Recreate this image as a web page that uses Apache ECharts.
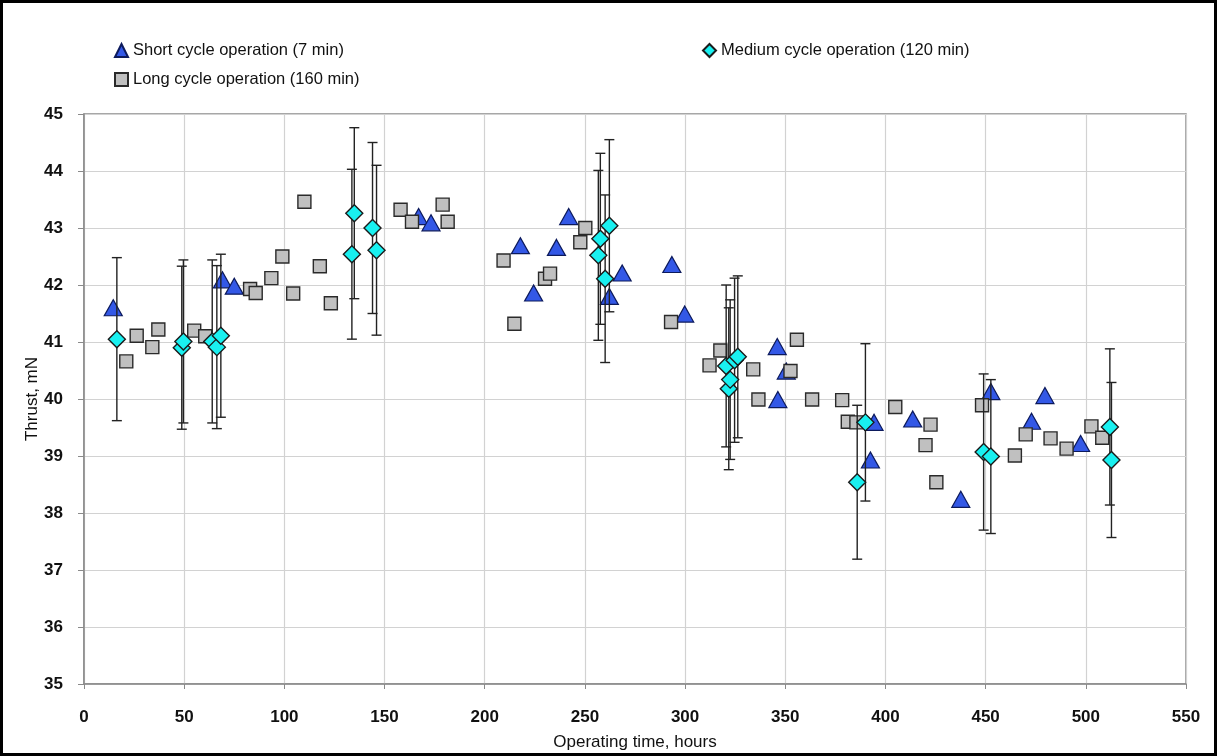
<!DOCTYPE html>
<html>
<head>
<meta charset="utf-8">
<script src="https://cdn.jsdelivr.net/npm/echarts@6/dist/echarts.min.js"></script>
<style>
  html, body { margin: 0; padding: 0; background: #fff; }
  #frame { position: absolute; left: 0; top: 0; width: 1217px; height: 756px; box-sizing: border-box; border: 3px solid #000; }
  #chart { position: absolute; left: 0; top: 0; width: 1217px; height: 756px; }
</style>
</head>
<body>
<div id="chart"></div>
<div id="frame"></div>
<script>
// Thrust measurements [operating time (h), thrust (mN)]
const shortCycle = [
  [14.6, 41.60], [69.1, 42.09], [75.0, 41.98], [167.0, 43.20], [173.2, 43.09],
  [217.8, 42.69], [224.4, 41.86], [235.8, 42.66], [241.9, 43.20], [262.2, 41.80],
  [268.6, 42.21], [293.4, 42.36], [299.8, 41.49], [346.0, 40.92], [346.3, 39.99],
  [350.5, 40.49], [392.5, 38.93], [394.3, 39.59], [413.6, 39.65], [437.6, 38.24],
  [452.6, 40.13], [472.9, 39.61], [479.6, 40.06], [497.4, 39.22]
];

const longCycle = [
  [21.1, 40.66], [26.3, 41.11], [34.1, 40.91], [37.1, 41.22], [55.0, 41.20],
  [60.5, 41.10], [82.9, 41.93], [85.7, 41.86], [93.5, 42.12], [99.0, 42.50],
  [104.4, 41.85], [110.0, 43.46], [117.7, 42.33], [123.2, 41.68], [158.0, 43.32],
  [163.7, 43.11], [179.0, 43.41], [181.5, 43.11], [209.4, 42.43], [214.8, 41.32],
  [230.1, 42.11], [232.6, 42.20], [247.7, 42.75], [250.2, 43.00], [293.0, 41.35],
  [312.2, 40.59], [317.6, 40.85], [334.0, 40.52], [336.6, 39.99], [352.6, 40.49],
  [355.8, 41.04], [363.4, 39.99], [378.4, 39.98], [381.2, 39.60], [385.5, 39.59],
  [404.9, 39.86], [420.0, 39.19], [422.5, 39.55], [425.4, 38.54], [448.2, 39.89],
  [464.6, 39.01], [470.0, 39.38], [482.4, 39.31], [490.4, 39.13], [502.8, 39.52],
  [508.2, 39.32]
];

// [operating time (h), thrust (mN), measurement uncertainty (mN)]
const mediumCycle = [
  [16.4, 41.05, 1.43], [48.8, 40.90, 1.43], [49.6, 41.01, 1.43], [64.0, 41.01, 1.43],
  [66.3, 40.91, 1.43], [68.3, 41.11, 1.43], [133.7, 42.54, 1.49], [134.9, 43.26, 1.50],
  [144.0, 43.00, 1.50], [146.0, 42.61, 1.49], [256.7, 42.52, 1.49], [257.7, 42.81, 1.50],
  [260.1, 42.11, 1.47], [262.2, 43.04, 1.51], [320.5, 40.58, 1.42], [321.8, 40.18, 1.42],
  [322.5, 40.34, 1.40], [324.7, 40.68, 1.44], [326.3, 40.74, 1.42], [385.9, 38.54, 1.35],
  [390.0, 39.59, 1.38], [449.0, 39.07, 1.37], [452.6, 38.99, 1.35], [512.0, 39.51, 1.37],
  [512.8, 38.93, 1.36]
];

const seriesNames = {
  short: 'Short cycle operation (7 min)',
  long: 'Long cycle operation (160 min)',
  medium: 'Medium cycle operation (120 min)'
};

const xTicks = { min: 0, max: 550, step: 50 };
const yTicks = { min: 35, max: 45, step: 1 };

const FONT = '"Liberation Sans", Arial, sans-serif';

const chart = echarts.init(document.getElementById('chart'), null, { renderer: 'canvas' });

// vertical error bar with caps for each medium-cycle point
function renderErrorBar(params, api) {
  const x = api.value(0);
  const y = api.value(1);
  const e = api.value(2);
  const top = api.coord([x, y + e]);
  const bot = api.coord([x, y - e]);
  const half = 5;
  const style = { stroke: '#222', lineWidth: 1.4 };
  return {
    type: 'group',
    children: [
      { type: 'line', shape: { x1: top[0], y1: top[1], x2: bot[0], y2: bot[1] }, style },
      { type: 'line', shape: { x1: top[0] - half, y1: top[1], x2: top[0] + half, y2: top[1] }, style },
      { type: 'line', shape: { x1: bot[0] - half, y1: bot[1], x2: bot[0] + half, y2: bot[1] }, style }
    ]
  };
}

const option = {
  backgroundColor: '#fff',
  animation: false,
  grid: {
    left: 84, right: 31, top: 114, bottom: 71,
    show: true, borderColor: '#8a8a8a', borderWidth: 1.5, backgroundColor: 'transparent'
  },
  legend: [
    {
      data: [
        { name: seriesNames.short, icon: 'triangle' },
        { name: seriesNames.long, icon: 'rect' }
      ],
      orient: 'vertical', left: 109, top: 37, itemGap: 12,
      itemWidth: 13, itemHeight: 13,
      textStyle: { fontFamily: FONT, fontSize: 16.5, color: '#111' }
    },
    {
      data: [{ name: seriesNames.medium, icon: 'diamond' }],
      left: 697, top: 37,
      itemWidth: 13, itemHeight: 13,
      textStyle: { fontFamily: FONT, fontSize: 16.5, color: '#111' }
    }
  ],
  xAxis: {
    type: 'value', min: xTicks.min, max: xTicks.max, interval: xTicks.step,
    name: 'Operating time, hours', nameLocation: 'middle', nameGap: 50,
    nameTextStyle: { fontFamily: FONT, fontSize: 17, color: '#111' },
    axisLine: { show: true, lineStyle: { color: '#8a8a8a', width: 1.5 } },
    axisTick: { show: true, length: 5, lineStyle: { color: '#8a8a8a' } },
    axisLabel: { fontFamily: FONT, fontWeight: 'bold', fontSize: 17, color: '#111', margin: 25 },
    splitLine: { show: true, lineStyle: { color: '#d2d2d2', width: 1.2 } }
  },
  yAxis: {
    type: 'value', min: yTicks.min, max: yTicks.max, interval: yTicks.step,
    name: 'Thrust, mN', nameLocation: 'middle', nameGap: 43, nameMoveOverlap: false,
    nameTextStyle: { fontFamily: FONT, fontSize: 17, color: '#111' },
    axisLine: { show: true, lineStyle: { color: '#8a8a8a', width: 1.5 } },
    axisTick: { show: true, length: 6, lineStyle: { color: '#8a8a8a' } },
    axisLabel: { fontFamily: FONT, fontWeight: 'bold', fontSize: 17, color: '#111', margin: 21 },
    splitLine: { show: true, lineStyle: { color: '#d2d2d2', width: 1.2 } }
  },
  series: [
    {
      name: seriesNames.short, type: 'scatter', data: shortCycle,
      symbol: 'triangle', symbolSize: [18, 16], z: 2,
      itemStyle: { color: '#3358e6', borderColor: '#0c1a5c', borderWidth: 1.2, opacity: 1 }
    },
    {
      name: seriesNames.long, type: 'scatter', data: longCycle,
      symbol: 'rect', symbolSize: 13, z: 3,
      itemStyle: { color: '#c0c0c0', borderColor: '#2a2a2a', borderWidth: 1.4, opacity: 1 }
    },
    {
      name: seriesNames.medium + ' error', type: 'custom', data: mediumCycle,
      renderItem: renderErrorBar, z: 4, silent: true,
      encode: { x: 0, y: 1 }
    },
    {
      name: seriesNames.medium, type: 'scatter', data: mediumCycle.map(d => [d[0], d[1]]),
      symbol: 'diamond', symbolSize: [17, 17], z: 5,
      itemStyle: { color: '#19f0f0', borderColor: '#1a1a1a', borderWidth: 1.4, opacity: 1 }
    }
  ]
};

chart.setOption(option);
</script>
</body>
</html>
